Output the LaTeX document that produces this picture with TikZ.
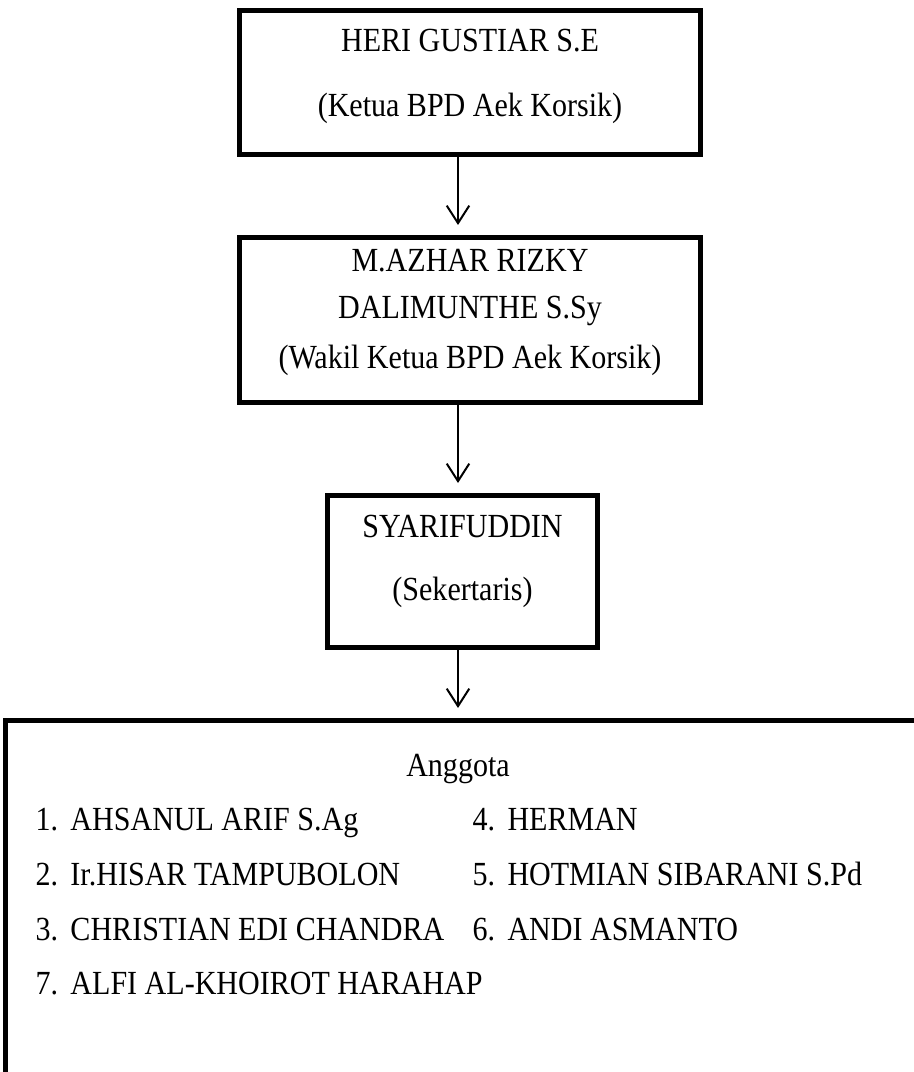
\documentclass[tikz,border=0pt]{standalone}
\usepackage{fontspec}
\setmainfont{Liberation Serif}[FakeStretch=0.89]
\usetikzlibrary{arrows.meta,positioning}

\begin{document}
\begin{tikzpicture}[x=0.4pt,y=-0.4pt,>={Straight Barb[length=7pt,width=9pt]}, every node/.style={font=\fontsize{13.5}{14.4}\selectfont}]
\tikzstyle{kotak}=[draw,line width=2pt,align=center,inner sep=0pt]
\tikzstyle{isi}=[inner sep=0pt,anchor=base west]
\tikzstyle{panah}=[->,line width=0.8pt,shorten >=4pt]
\useasboundingbox (0,0) rectangle (913,1072);
\node[kotak,minimum width=184.4pt,minimum height=57.6pt] (ketua) at (470,82.5) {HERI GUSTIAR S.E\\[11.6pt](Ketua BPD Aek Korsik)\\[-6.6pt]\mbox{}};
\node[kotak,minimum width=184.4pt,minimum height=66pt] (wakil) at (470,320) {M.AZHAR RIZKY\\[4.4pt]DALIMUNTHE S.Sy\\[5.6pt](Wakil Ketua BPD Aek Korsik)\\[-5.8pt]\mbox{}};
\node[kotak,minimum width=108pt,minimum height=60.8pt] (sekretaris) at (462.5,571.5) {SYARIFUDDIN\\[10.8pt](Sekertaris)\\[-3.4pt]\mbox{}};
\node[kotak,minimum width=400pt,minimum height=200pt] (anggota) at (505.5,970.5) {};
\coordinate (garis) at (458,0);
% isi kotak anggota
\node[inner sep=0pt,anchor=base] (judul) at (458,776) {Anggota};
\node[isi] (a1) at (35,830) {\makebox[14pt][l]{1.}AHSANUL ARIF S.Ag};
\node[isi] (a2) at (35,885) {\makebox[14pt][l]{2.}Ir.HISAR TAMPUBOLON};
\node[isi] (a3) at (35,940) {\makebox[14pt][l]{3.}CHRISTIAN EDI CHANDRA};
\node[isi] (a7) at (35,994) {\makebox[14pt][l]{7.}ALFI AL-KHOIROT HARAHAP};
\node[isi] (a4) at (472,830) {\makebox[14pt][l]{4.}HERMAN};
\node[isi] (a5) at (472,885) {\makebox[14pt][l]{5.}HOTMIAN SIBARANI S.Pd};
\node[isi] (a6) at (472,940) {\makebox[14pt][l]{6.}ANDI ASMANTO};
\draw[panah] (ketua.south -| garis) -- (wakil.north -| garis);
\draw[panah] (wakil.south -| garis) -- (sekretaris.north -| garis);
\draw[panah] (sekretaris.south -| garis) -- (anggota.north -| garis);
\end{tikzpicture}
\end{document}
